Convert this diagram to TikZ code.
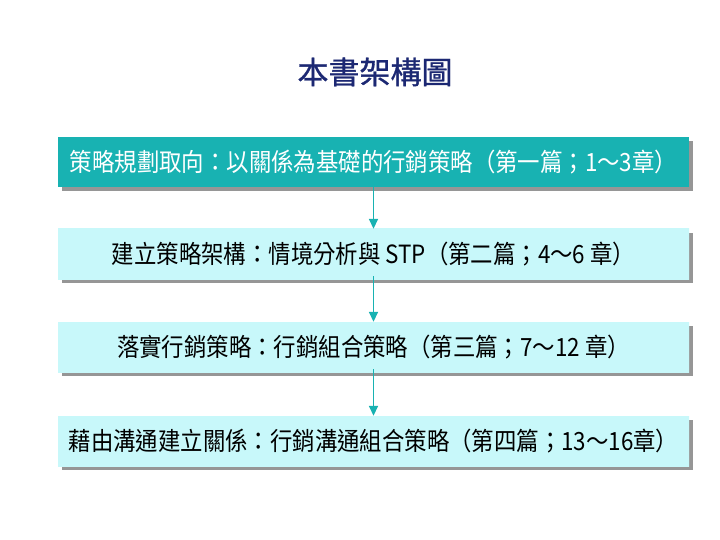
\documentclass[tikz,border=0pt]{standalone}
\usepackage{fontspec}
\setmainfont{Noto Sans CJK TC}
\newfontfamily\cjk{Noto Sans CJK TC}
\newfontfamily\cjkb[FakeBold=1]{Noto Sans CJK TC}
\usetikzlibrary{arrows.meta,shadows}
\newcommand{\tallt}[1]{\scalebox{1}[1.12]{#1}}
\definecolor{teal1}{RGB}{24,178,178}
\definecolor{cyanL}{RGB}{200,248,250}
\definecolor{cyanM}{RGB}{232,253,254}
\definecolor{navy}{RGB}{28,40,115}
\definecolor{shad}{RGB}{150,150,150}
\tikzset{
  boxbase/.style={rectangle, minimum width=631pt, minimum height=50pt, inner sep=0pt,
    font=\cjk\fontsize{22.4}{25}\selectfont,
    general shadow={fill=shad, shadow xshift=4pt, shadow yshift=-4pt}},
  darkbox/.style={boxbase, fill=teal1, text=white},
  lightbox/.style={boxbase, left color=cyanL, middle color=cyanM, right color=cyanL, text=black},
  flowarrow/.style={draw=teal1, line width=1.6pt, -{Triangle[width=9pt,length=10pt]}}
}
\begin{document}
\begin{tikzpicture}[x=1pt,y=-1pt]
\path[use as bounding box, fill=white] (0,0) rectangle (720,540);
\node[text=navy, font=\cjkb\fontsize{31}{34}\selectfont] (t) at (375,72) {本書架構圖};
\node[darkbox] (b1) at (373.5,162) {\tallt{策略規劃取向：以關係為基礎的行銷策略（第一篇；1～3章）}};
\node[lightbox] (b2) at (373.5,254) {\tallt{建立策略架構：情境分析與 STP（第二篇；4～6 章）}};
\node[lightbox] (b3) at (373.5,347) {\tallt{落實行銷策略：行銷組合策略（第三篇；7～12 章）}};
\node[lightbox] (b4) at (373.5,441) {\tallt{藉由溝通建立關係：行銷溝通組合策略（第四篇；13～16章）}};
\draw[flowarrow] ([yshift=3pt]b1.south) -- (b2.north);
\draw[flowarrow] ([yshift=3pt]b2.south) -- (b3.north);
\draw[flowarrow] ([yshift=3pt]b3.south) -- (b4.north);
\end{tikzpicture}
\end{document}
